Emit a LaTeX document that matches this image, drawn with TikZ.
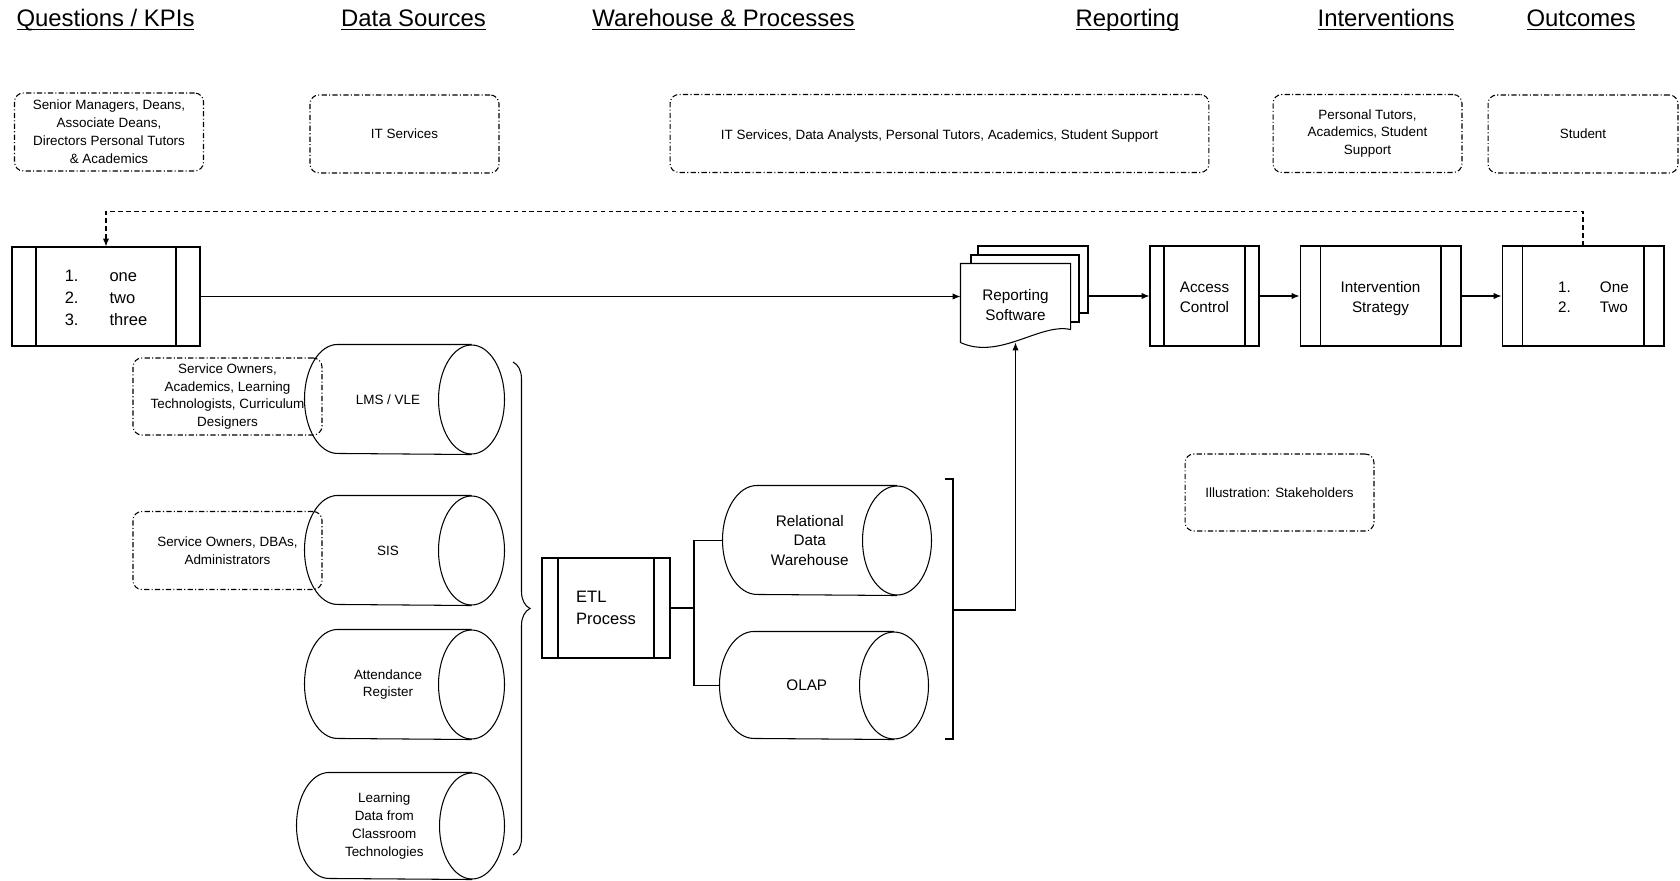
\documentclass[tikz,border=0pt]{standalone}
\usepackage{fontspec}
\setmainfont{Liberation Sans}
\usepackage{tikz}
\usetikzlibrary{arrows.meta, decorations.pathreplacing}

\newcommand\stxt{\fontsize{7.65pt}{10.2pt}\selectfont}
\newcommand\mtxt{\fontsize{8.7pt}{11pt}\selectfont}
\newcommand\ltxt{\fontsize{9.4pt}{12.7pt}\selectfont}
\newcommand\htxt{\fontsize{13.6pt}{16pt}\selectfont}
% lower a text block a little without changing its box
\newcommand\lowertxt[1]{\raisebox{-1.5pt}[\height][\depth]{#1}}
% store outline: node = body, #2 = end radius, #3 = half height
\newcommand\dbcyl[3]{%
    \draw (#1.north east) -- ([xshift=#2]#1.north west)
        arc[start angle=90, end angle=270, x radius=#2, y radius=#3] -- (#1.south east);
    \draw (#1.east) ellipse [x radius=#2, y radius=#3];}

\begin{document}
\begin{tikzpicture}[x=0.02cm, y=-0.02cm, line width=0.6pt,
    arr/.style={-{Latex[length=4.5pt,width=3.6pt]}},
    head/.style={font=\htxt, inner sep=0pt, anchor=base},
    stake/.style={draw, rounded corners=5pt, dash pattern=on 3pt off 1.3pt on 0.6pt off 1.3pt,
        align=center, font=\stxt, inner sep=0pt, minimum width=3.78cm, minimum height=1.56cm},
    proc/.style={draw, rectangle, align=center, inner sep=0pt, minimum height=2cm,
        path picture={\draw ([xshift=#1]path picture bounding box.north west) -- ([xshift=#1]path picture bounding box.south west)
            ([xshift=-#1]path picture bounding box.north east) -- ([xshift=-#1]path picture bounding box.south east);}},
    db/.style={align=center, font=\stxt, inner sep=0pt, minimum width=3.32cm, minimum height=2.18cm},
    page/.style={draw, fill=white, minimum width=2.2cm, minimum height=1.34cm, inner sep=0pt}]
    \useasboundingbox (0,0) rectangle (1680,881);

    % column headings
    \node[head] (hq) at (105.5,27) {\underline{\smash{Questions / KPIs}}};
    \node[head] (hd) at (413.5,27) {\underline{\smash{Data Sources}}};
    \node[head] (hw) at (723.5,27) {\underline{\smash{Warehouse \& Processes}}};
    \node[head] (hr) at (1127.5,27) {\underline{\smash{Reporting}}};
    \node[head] (hi) at (1386,27) {\underline{\smash{Interventions}}};
    \node[head] (ho) at (1581,27) {\underline{\smash{Outcomes}}};

    % stakeholders
    \node[stake] (s1) at (109,132) {Senior Managers, Deans,\\Associate Deans,\\Directors Personal Tutors\\\& Academics};
    \node[stake] (s2) at (404.5,134) {IT Services};
    \node[stake, minimum width=10.78cm] (s3) at (939.5,133.5) {\lowertxt{IT Services, Data Analysts, Personal Tutors, Academics, Student Support}};
    \node[stake] (s4) at (1367.5,133.5) {Personal Tutors,\\Academics, Student\\Support};
    \node[stake, minimum width=3.8cm] (s5) at (1583,134) {Student};
    \node[stake, minimum height=1.54cm] (s6) at (1279.5,492.5) {Illustration: Stakeholders};
    \node[stake, minimum height=1.54cm] (s7) at (227.5,396.5) {Service Owners,\\Academics, Learning\\Technologists, Curriculum\\Designers};
    \node[stake] (s8) at (227.5,550.5) {Service Owners, DBAs,\\Administrators};

    % process boxes
    \node[proc=0.48cm, minimum width=3.76cm, minimum height=1.98cm, font=\ltxt] (kpi) at (106,296.5)
        {\lowertxt{\begin{tabular}{@{}l@{\hspace{0.62cm}}l@{}}1.&one\\2.&two\\3.&three\end{tabular}}};
    \node[proc=0.28cm, minimum width=2.18cm, font=\mtxt] (acc) at (1204.5,296)
        {\lowertxt{\begin{tabular}{@{}c@{}}Access\\Control\end{tabular}}};
    \node[proc=0.4cm, minimum width=3.22cm, font=\mtxt] (int) at (1380.5,296)
        {\lowertxt{\begin{tabular}{@{}c@{}}Intervention\\Strategy\end{tabular}}};
    \node[proc=0.4cm, minimum width=3.24cm, font=\mtxt] (out) at (1583,296)
        {\lowertxt{\begin{tabular}{@{\hspace{0.42cm}}l@{\hspace{0.58cm}}l@{}}1.&One\\2.&Two\end{tabular}}};
    \node[proc=0.32cm, minimum width=2.56cm, font=\ltxt, align=left] (etl) at (606,608) {ETL\\Process};

    % reporting software (stack of pages)
    \node[page] (rep3) at (1033,279.5) {};
    \node[page, minimum width=2.16cm] (rep2) at (1025,288.5) {};
    \node[minimum width=2.18cm, minimum height=1.56cm, inner sep=0pt] (rep) at (1015.5,303) {};
    \draw[fill=white] (rep.north west) -- (rep.north east) -- ([yshift=0.26cm]rep.south east)
        .. controls ([xshift=-0.6cm,yshift=0.4cm]rep.south east) and ([xshift=0.78cm,yshift=-0.36cm]rep.south west) .. (rep.south west) -- cycle;
    \node[font=\mtxt, align=center, inner sep=0pt] (rept) at (1015.5,305) {Reporting\\Software};

    % data sources
    \node[db] (lms) at (388,399.5) {LMS / VLE};
    \dbcyl{lms}{0.66cm}{1.09cm}
    \node[db] (sis) at (388,550.5) {SIS};
    \dbcyl{sis}{0.66cm}{1.09cm}
    \node[db] (att) at (388,684.5) {Attendance\\Register};
    \dbcyl{att}{0.66cm}{1.09cm}
    \node[db, minimum width=3.49cm, minimum height=2.12cm] (lrn) at (384.25,826) {Learning\\Data from\\Classroom\\Technologies};
    \dbcyl{lrn}{0.65cm}{1.06cm}

    % warehouse
    \node[db, minimum width=3.47cm, font=\mtxt] (rdw) at (809.75,540.5) {Relational\\Data\\Warehouse};
    \dbcyl{rdw}{0.69cm}{1.09cm}
    \node[db, minimum width=3.47cm, minimum height=2.14cm, font=\mtxt] (olap) at (806.75,685.5) {OLAP};
    \dbcyl{olap}{0.69cm}{1.07cm}

    % brackets
    \draw[decorate, decoration={brace, amplitude=0.34cm}] (513,362) -- (513,855);
    \draw (945,479) -- (953,479) -- (953,739) -- (945,739);
    \coordinate (whtip) at (953,610);
    \coordinate (fork) at (694,608);

    % connectors
    \draw (etl.east) -- (fork);
    \draw (rdw.west) -| (fork) |- (olap.west);
    \draw[arr] (whtip) -| (rep.south);
    \draw[arr] (kpi.east) -- (kpi.east -| rep.west);
    \draw[arr] (rep3.east |- acc.west) -- (acc.west);
    \draw[arr] (acc.east) -- (int.west);
    \draw[arr] (int.east) -- (out.west);
    \draw[arr, dash pattern=on 2.5pt off 2pt] (out.north) -- ++(0,-34) -| (kpi.north);
\end{tikzpicture}
\end{document}
